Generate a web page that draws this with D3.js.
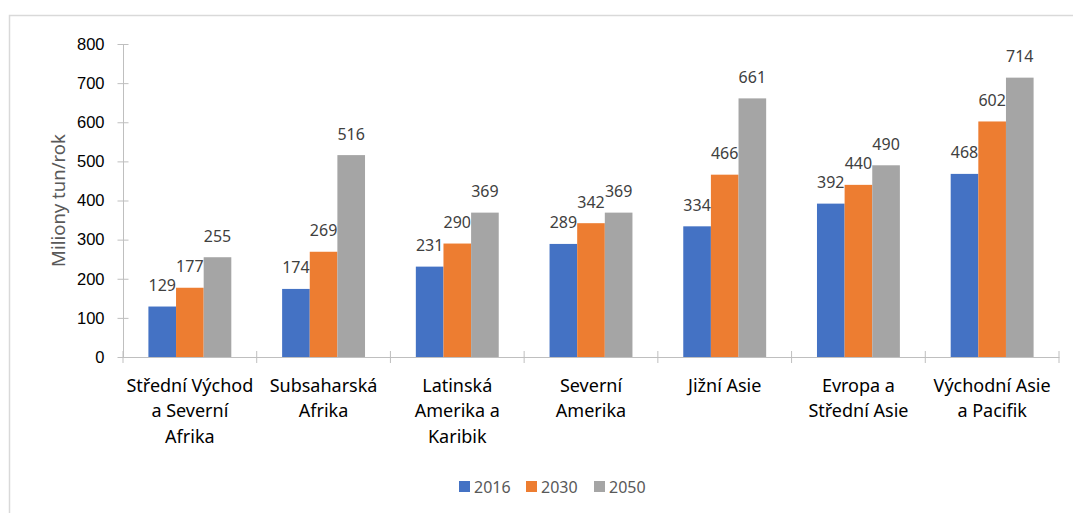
<!DOCTYPE html>
<html>
<head>
<meta charset="utf-8">
<script src="https://cdn.jsdelivr.net/npm/d3@7"></script>
<style>
  body { margin: 0; background: #fff; }
  svg { display: block; font-family: "Noto Sans", "Open Sans", sans-serif; }
</style>
</head>
<body>
<svg id="chart" width="1073" height="513"></svg>
<script>
const regions = [
  ['Střední Východ', 'a Severní', 'Afrika'],
  ['Subsaharská', 'Afrika'],
  ['Latinská', 'Amerika a', 'Karibik'],
  ['Severní', 'Amerika'],
  ['Jižní Asie'],
  ['Evropa a', 'Střední Asie'],
  ['Východní Asie', 'a Pacifik']
]
const years = ['2016', '2030', '2050']
const values2016 = [129, 174, 231, 289, 334, 392, 468]
const values2030 = [177, 269, 290, 342, 466, 440, 602]
const values2050 = [255, 516, 369, 369, 661, 490, 714]
const yTicks = [0, 100, 200, 300, 400, 500, 600, 700, 800]
const colors = ['#4472C4', '#ED7D31', '#A5A5A5']

const series = [values2016, values2030, values2050]
const svg = d3.select('#chart')

// chart frame (only top/left visible in the picture)
svg.append('rect')
  .attr('x', 9.5).attr('y', 15.5)
  .attr('width', 1200).attr('height', 600)
  .attr('fill', 'none').attr('stroke', '#d9d9d9').attr('stroke-width', 1.5)

const plotLeft = 123, plotRight = 1059, plotTop = 44, plotBottom = 357

const x0 = d3.scaleBand().domain(d3.range(regions.length)).range([plotLeft, plotRight]).padding(0)
const gap = x0.bandwidth() * 0.38
const x1 = d3.scaleBand().domain(years).range([gap / 2, x0.bandwidth() - gap / 2]).padding(0)
const y = d3.scaleLinear().domain([0, 800]).range([plotBottom, plotTop])

// y axis
const yAxis = svg.append('g').attr('transform', `translate(${plotLeft},0)`)
  .call(d3.axisLeft(y).tickValues(yTicks).tickSizeInner(5.5).tickSizeOuter(0).tickPadding(13))
yAxis.select('.domain').attr('stroke', '#bfbfbf')
yAxis.selectAll('.tick line').attr('stroke', '#bfbfbf').attr('x2', 5.5).attr('x1', -5.5)
yAxis.selectAll('.tick text').attr('font-size', 16.5).attr('fill', '#000').attr('font-family', null)

// bars
const groups = svg.append('g').selectAll('g')
  .data(regions.map((r, i) => i))
  .join('g')
  .attr('transform', i => `translate(${x0(i)},0)`)

groups.selectAll('rect')
  .data(i => years.map((yr, k) => ({yr: yr, k: k, v: series[k][i]})))
  .join('rect')
  .attr('x', d => x1(d.yr))
  .attr('width', x1.bandwidth())
  .attr('y', d => y(d.v))
  .attr('height', d => y(0) - y(d.v))
  .attr('fill', d => colors[d.k])

groups.selectAll('text')
  .data(i => years.map((yr, k) => ({yr: yr, k: k, v: series[k][i]})))
  .join('text')
  .attr('x', d => x1(d.yr) + x1.bandwidth() / 2)
  .attr('y', d => y(d.v) - 15.5)
  .attr('text-anchor', 'middle')
  .attr('font-size', 16)
  .attr('fill', '#404040')
  .text(d => d.v)

// x axis
const xAxis = svg.append('g').attr('transform', `translate(0,${plotBottom})`)
  .call(d3.axisBottom(x0).tickValues([]).tickSizeOuter(0))
xAxis.select('.domain').attr('stroke', '#bfbfbf')
xAxis.selectAll('.sep')
  .data(d3.range(regions.length + 1))
  .join('line')
  .attr('class', 'sep')
  .attr('x1', i => i < regions.length ? x0(i) : x0(i - 1) + x0.bandwidth())
  .attr('x2', i => i < regions.length ? x0(i) : x0(i - 1) + x0.bandwidth())
  .attr('y1', -6).attr('y2', 6)
  .attr('stroke', '#bfbfbf')

const catLabels = svg.append('g').selectAll('text')
  .data(regions)
  .join('text')
  .attr('text-anchor', 'middle')
  .attr('font-size', 18)
  .attr('fill', '#000')
catLabels.selectAll('tspan')
  .data((d, i) => d.map(line => ({line: line, i: i})))
  .join('tspan')
  .attr('x', d => x0(d.i) + x0.bandwidth() / 2)
  .attr('y', (d, j) => 391.5 + j * 25.7)
  .text(d => d.line)

// y title
svg.append('text')
  .attr('transform', `translate(65,${(plotTop + plotBottom) / 2}) rotate(-90)`)
  .attr('text-anchor', 'middle')
  .attr('font-size', 18.5)
  .attr('fill', '#595959')
  .text('Miliony tun/rok')

// legend
const legendX = [459, 526, 594]
const legend = svg.append('g').selectAll('g')
  .data(years)
  .join('g')
  .attr('transform', (d, i) => `translate(${legendX[i]},481)`)
legend.append('rect')
  .attr('width', 11).attr('height', 11)
  .attr('fill', (d, i) => colors[i])
legend.append('text')
  .attr('x', 15).attr('y', 11.5)
  .attr('font-size', 16)
  .attr('fill', '#595959')
  .text(d => d)
</script>
</body>
</html>
